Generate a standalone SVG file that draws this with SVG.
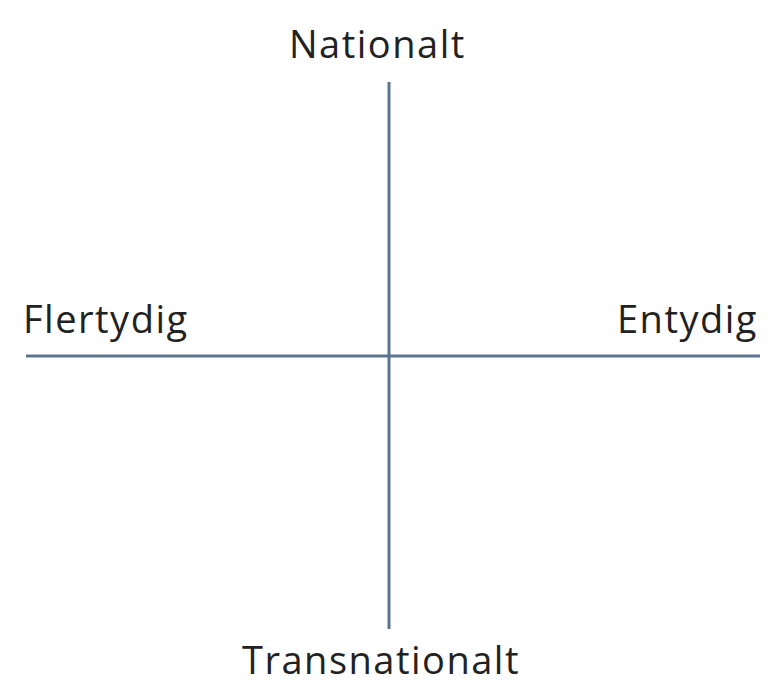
<svg xmlns="http://www.w3.org/2000/svg" width="769" height="682" viewBox="0 0 769 682">
<style>
.ax{stroke:#5b7590;stroke-width:3;fill:none}
.lb{font-family:"Open Sans","Noto Sans",sans-serif;font-size:38px;letter-spacing:1.5px;fill:#222}
</style>
<rect width="769" height="682" fill="#fff"/>
<g id="connectors">
<line class="ax" x1="389" y1="82" x2="389" y2="629"/>
<line class="ax" x1="26" y1="356" x2="760" y2="356"/>
</g>
<g id="nationalt"><text class="lb" x="289" y="58">Nationalt</text></g>
<g id="flertydig"><text class="lb" x="23" y="333">Flertydig</text></g>
<g id="entydig"><text class="lb" x="617" y="333">Entydig</text></g>
<g id="transnationalt"><text class="lb" x="242" y="674">Transnationalt</text></g>
</svg>
